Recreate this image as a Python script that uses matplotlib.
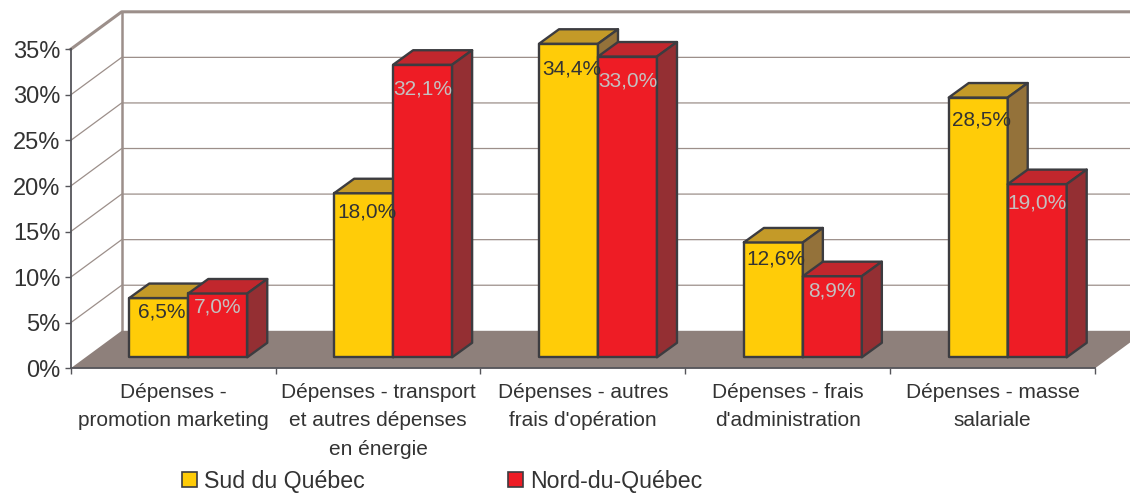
import matplotlib.pyplot as plt
from matplotlib.patches import Patch, Polygon

CATEGORIES = [
    "Dépenses -\npromotion marketing",
    "Dépenses - transport\net autres dépenses\nen énergie",
    "Dépenses - autres\nfrais d'opération",
    "Dépenses - frais\nd'administration",
    "Dépenses - masse\nsalariale",
]
SUD = [6.5, 18.0, 34.4, 12.6, 28.5]
NORD = [7.0, 32.1, 33.0, 8.9, 19.0]
Y_TICKS = [0, 5, 10, 15, 20, 25, 30, 35]

W, H = 1130, 493
PX_X = 204.9  # pixels per category
PX_Y = 9.114  # pixels per percent

# 3d offsets, in data units
WALL_DX = 51 / PX_X
WALL_DY = 37.5 / PX_Y
BAR_DX = 20 / PX_X
BAR_DY = 14.5 / PX_Y
BAR_BASE = 11 / PX_Y
BAR_START = 58.6 / PX_X
BAR_W = 59 / PX_X
LABEL_SCALE = 0.955

DARK = "#333333"
EDGE = "#3c3c40"
WALL = "#9c8f8a"
FLOOR = "#8e807b"
SUD_COLORS = ("#ffcc08", "#c49a28", "#94723a")
NORD_COLORS = ("#ee1c25", "#c1272d", "#942f33")

plt.rcParams["font.family"] = ["Liberation Sans", "DejaVu Sans"]


def draw_bar(ax, x, value, colors):
    front, top, side = colors
    y0 = BAR_BASE
    y1 = BAR_BASE + value
    faces = [
        ([(x, y0), (x + BAR_W, y0), (x + BAR_W, y1), (x, y1)], front),
        (
            [
                (x, y1),
                (x + BAR_W, y1),
                (x + BAR_W + BAR_DX, y1 + BAR_DY),
                (x + BAR_DX, y1 + BAR_DY),
            ],
            top,
        ),
        (
            [
                (x + BAR_W, y0),
                (x + BAR_W + BAR_DX, y0 + BAR_DY),
                (x + BAR_W + BAR_DX, y1 + BAR_DY),
                (x + BAR_W, y1),
            ],
            side,
        ),
    ]
    for points, color in faces:
        ax.add_patch(
            Polygon(
                points,
                closed=True,
                facecolor=color,
                edgecolor=EDGE,
                linewidth=1.7,
                joinstyle="round",
                clip_on=False,
                zorder=5,
            )
        )


def plot():
    fig = plt.figure(figsize=(W / 100, H / 100), dpi=100)
    ax = fig.add_axes(
        [70.7 / W, 1 - 368.3 / H, (1095 - 70.7) / W, (368.3 - 49.3) / H]
    )
    n = len(CATEGORIES)
    ax.set_xlim(0, n)
    ax.set_ylim(0, 35)

    # floor
    ax.add_patch(
        Polygon(
            [(0, 0), (WALL_DX, WALL_DY), (n + WALL_DX, WALL_DY), (n, 0)],
            closed=True,
            facecolor=FLOOR,
            edgecolor="none",
            clip_on=False,
            zorder=2,
        )
    )

    # side wall and back wall lines
    for tick in Y_TICKS[1:]:
        lw = 2.2 if tick == Y_TICKS[-1] else 0.9
        ax.plot(
            [0, WALL_DX, n + WALL_DX],
            [tick, tick + WALL_DY, tick + WALL_DY],
            color=WALL,
            lw=lw,
            clip_on=False,
            zorder=1,
        )
    ax.plot(
        [WALL_DX, WALL_DX],
        [WALL_DY, Y_TICKS[-1] + WALL_DY],
        color=WALL,
        lw=1.8,
        clip_on=False,
        zorder=1,
    )

    for i in range(n):
        x_sud = i + BAR_START
        x_nord = x_sud + BAR_W
        draw_bar(ax, x_sud, SUD[i], SUD_COLORS)
        draw_bar(ax, x_nord, NORD[i], NORD_COLORS)
        ax.text(
            x_sud + BAR_W / 2 + 3 / PX_X,
            SUD[i] * LABEL_SCALE,
            f"{SUD[i]:.1f}%".replace(".", ","),
            ha="center",
            va="center",
            fontsize=15,
            color=DARK,
            zorder=10,
        )
        ax.text(
            x_nord + BAR_W / 2,
            NORD[i] * LABEL_SCALE,
            f"{NORD[i]:.1f}%".replace(".", ","),
            ha="center",
            va="center",
            fontsize=15,
            color="#c4c0c0",
            zorder=10,
        )

    ax.set_facecolor("none")
    for name in ["top", "right"]:
        ax.spines[name].set_visible(False)
    for name in ["left", "bottom"]:
        ax.spines[name].set_color("#55555a")
        ax.spines[name].set_linewidth(1.3)
        ax.spines[name].set_zorder(3)

    ax.set_yticks(Y_TICKS)
    ax.set_yticklabels([f"{t}%" for t in Y_TICKS])
    ax.tick_params(
        axis="y", length=4.5, width=1, color="#55555a", labelsize=17,
        labelcolor=DARK, pad=3,
    )

    # ticks sit between categories, labels are centred under them
    ax.set_xticks(range(n + 1))
    ax.set_xticklabels([])
    ax.set_xticks([i + 0.5 for i in range(n)], minor=True)
    ax.set_xticklabels(CATEGORIES, minor=True, linespacing=1.63)
    ax.tick_params(axis="x", which="major", length=4.5, width=1, color="#55555a")
    ax.tick_params(
        axis="x", which="minor", length=0, labelsize=15, labelcolor=DARK, pad=10.5
    )

    handles = [
        Patch(facecolor=SUD_COLORS[0], edgecolor=EDGE, linewidth=1.2),
        Patch(facecolor=NORD_COLORS[0], edgecolor=EDGE, linewidth=1.2),
    ]
    fig.legend(
        handles,
        ["Sud du Québec", "Nord-du-Québec"],
        loc="lower left",
        bbox_to_anchor=(182 / W, 1 - 493 / H),
        ncol=2,
        frameon=False,
        fontsize=16.7,
        labelcolor=DARK,
        borderpad=0,
        borderaxespad=0,
        handlelength=0.65,
        handleheight=0.6,
        handletextpad=0.3,
        columnspacing=6.16,
    )

    fig.savefig("out.png", dpi=100, facecolor="white")


if __name__ == "__main__":
    plot()
